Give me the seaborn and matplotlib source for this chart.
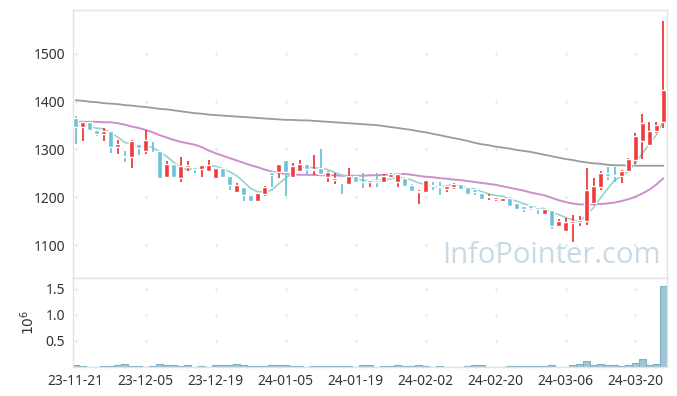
import numpy as np
import pandas as pd
import matplotlib
matplotlib.use("Agg")
import matplotlib.pyplot as plt
import seaborn as sns

# ===================== 数据 =====================
opens = [1365, 1348, 1357, 1341, 1333, 1339, 1306, 1287, 1285, 1311,
         1296, 1295, 1296, 1243, 1269, 1240, 1264, 1264, 1259, 1256,
         1241, 1262, 1245, 1212, 1222, 1205, 1193, 1207, 1252, 1252,
         1277, 1243, 1256, 1270, 1257, 1261, 1242, 1236, 1232, 1228,
         1245, 1233, 1231, 1236, 1233, 1243, 1231, 1241, 1226, 1212,
         1212, 1225, 1224, 1218, 1222, 1228, 1221, 1217, 1208.6, 1200,
         1196, 1193, 1198, 1189, 1181, 1183.5, 1180, 1166, 1174, 1139,
         1130, 1146, 1149, 1151, 1189, 1222, 1251, 1247, 1243.5, 1255,
         1278, 1317, 1310, 1338, 1357]
highs = [1371, 1358, 1358, 1341, 1345, 1339, 1320, 1296, 1320, 1311,
         1341, 1315, 1296, 1275, 1269, 1284, 1275, 1264, 1268, 1278,
         1262, 1262, 1245, 1229, 1222, 1205, 1209, 1224, 1252, 1270,
         1277, 1271, 1278, 1270, 1289, 1301, 1255, 1250, 1232, 1261,
         1245, 1250, 1236, 1250, 1248, 1250, 1249, 1241, 1228, 1215,
         1236, 1233, 1233, 1224, 1229, 1228, 1221, 1217, 1208.6, 1206,
         1201, 1199, 1200, 1189, 1181, 1183.5, 1180, 1175, 1174, 1155,
         1156, 1163, 1160, 1261, 1240, 1254, 1264, 1264, 1257, 1282,
         1334, 1374, 1358, 1357, 1568]
lows = [1311, 1318, 1340, 1329, 1318, 1292, 1290, 1273, 1261, 1289,
        1290, 1290, 1241, 1242, 1243, 1232, 1256, 1250, 1243, 1256,
        1238, 1243, 1215, 1212, 1192, 1190, 1193, 1203, 1222, 1241,
        1203, 1243, 1256, 1247, 1247, 1245, 1231, 1228, 1207, 1228,
        1231, 1219, 1221, 1221, 1229, 1243, 1222, 1224, 1214, 1186,
        1212, 1215, 1205, 1210, 1217, 1217, 1206, 1204, 1197, 1195,
        1193, 1193, 1182, 1176, 1170, 1174, 1165, 1164, 1133, 1139,
        1130, 1107, 1139, 1142, 1184, 1216, 1236, 1233, 1229, 1253,
        1270, 1280, 1310, 1335, 1345]
closes = [1348, 1357, 1340, 1333, 1339, 1306, 1311, 1285, 1318, 1304,
          1320, 1293, 1241, 1269, 1243, 1266, 1268, 1259, 1268, 1268,
          1262, 1243, 1226, 1226, 1204, 1193, 1209, 1222, 1247, 1270,
          1252, 1266, 1270, 1259, 1260, 1249, 1252, 1241, 1229, 1245,
          1231, 1231, 1236, 1233, 1245, 1248, 1249, 1224.5, 1214, 1213,
          1236, 1224, 1222, 1224, 1228, 1217, 1206.5, 1212, 1197, 1203,
          1200, 1199, 1182, 1176, 1176, 1178.5, 1176, 1175, 1139, 1151,
          1148, 1151, 1153, 1215, 1224, 1250, 1245.5, 1243.5, 1255, 1280,
          1328.5, 1355, 1339, 1352, 1425]
# 成交量（百万）
volume = [0.038, 0.013, 0, 0, 0.013, 0.013, 0.032, 0.051, 0.013, 0.013,
          0, 0.013, 0.051, 0.032, 0.032, 0.013, 0.032, 0, 0.013, 0,
          0.032, 0.032, 0.032, 0.051, 0.032, 0.013, 0.013, 0.013, 0.032, 0.032,
          0.032, 0.013, 0.013, 0, 0.013, 0.013, 0.013, 0.013, 0.013, 0.013,
          0, 0.032, 0.032, 0, 0.013, 0.013, 0.032, 0.013, 0.013, 0.032,
          0.013, 0, 0.013, 0, 0, 0, 0.013, 0.032, 0.032, 0,
          0, 0, 0.013, 0.013, 0.013, 0.013, 0.013, 0.013, 0.032, 0,
          0, 0.032, 0.051, 0.115, 0.032, 0.051, 0.032, 0.032, 0.013, 0.032,
          0.083, 0.147, 0.032, 0.051, 1.56]
# 20日 / 长期均线
ma20 = [1358, 1358, 1358, 1358, 1357, 1357, 1355, 1352, 1348, 1345,
        1341, 1336, 1330, 1325, 1320, 1316, 1313, 1310, 1305, 1298,
        1292, 1287, 1282, 1277, 1272, 1267, 1263, 1258, 1254, 1251,
        1249, 1248, 1247, 1247, 1247, 1246, 1246, 1246, 1245, 1245,
        1245, 1245, 1246, 1246, 1247, 1247, 1248, 1249, 1247, 1245,
        1243, 1242, 1240, 1239, 1237, 1236, 1234, 1232, 1230, 1228,
        1226, 1223, 1220, 1217, 1214, 1210, 1207, 1204, 1199, 1194,
        1190, 1187, 1185, 1185, 1185, 1186, 1187, 1189, 1192, 1196,
        1201, 1208, 1216, 1227, 1240]
ma120 = [1403, 1402, 1400, 1399, 1397, 1396, 1395, 1393, 1392, 1390,
         1389, 1387, 1385, 1384, 1382, 1380, 1378, 1376, 1375, 1373,
         1372, 1371, 1370, 1369, 1368, 1367, 1366, 1365, 1364, 1363,
         1362, 1362, 1361, 1361, 1360, 1359, 1358, 1357, 1356, 1355,
         1354, 1353, 1352, 1351, 1349, 1347, 1345, 1343, 1341, 1338,
         1336, 1333, 1330, 1327, 1324, 1321, 1318, 1314, 1311, 1309,
         1306, 1304, 1302, 1299, 1297, 1295, 1292, 1289, 1286, 1283,
         1280, 1278, 1275, 1273, 1271, 1270, 1268, 1267, 1267, 1266,
         1266, 1266, 1266, 1266, 1266]
date_labels = ["23-11-21", "23-12-05", "23-12-19", "24-01-05", "24-01-19",
               "24-02-02", "24-02-20", "24-03-06", "24-03-20"]

x = np.arange(len(closes))
o = np.array(opens); c = np.array(closes)
ma5 = pd.Series(closes).rolling(5, min_periods=1).mean()

# ===================== 样式 =====================
sns.set_style("white")
plt.rcParams['font.family'] = ['Noto Sans', 'DejaVu Sans']
RED, BLUE = "#ef3b3b", "#6cc3d9"

fig = plt.figure(figsize=(6.77, 3.96), dpi=100)
ax1 = fig.add_axes([0.1078, 0.298, 0.8774, 0.6767])
ax2 = fig.add_axes([0.1078, 0.0732, 0.8774, 0.2248], sharex=ax1)

# 均线
sns.lineplot(x=x, y=ma120, ax=ax1, color="#9b9b9b", lw=1.3, zorder=2)
sns.lineplot(x=x, y=ma20, ax=ax1, color="#cc8fcb", lw=1.4, zorder=2)
sns.lineplot(x=x, y=ma5, ax=ax1, color="#95d5c7", lw=1.2, zorder=2)

# K线
cols = [RED if cc >= oo else BLUE for oo, cc in zip(o, c)]
ax1.vlines(x, lows, highs, colors=cols, lw=1.3, zorder=3)
ax1.bar(x, np.maximum(np.abs(c - o), 1.5), bottom=np.minimum(o, c),
        width=0.75, color=cols, zorder=4)

ax1.set_xlim(-0.4, 84.5)
ax1.set_ylim(1031, 1592)
ax1.set_yticks([1100, 1200, 1300, 1400, 1500])
ax1.set_ylabel("")

# 水印
ax1.text(0.805, 0.085, "InfoPointer.com", transform=ax1.transAxes,
         ha="center", va="center", fontsize=21, color="#c8dae4",
         family=["Open Sans", "DejaVu Sans"], zorder=1)

# 成交量
sns.barplot(x=x, y=volume, ax=ax2, native_scale=True, color="#9fc5d6",
            edgecolor="#7fb0c6", linewidth=0.8, width=0.95, saturation=1)
ax2.set_ylim(0, 1.71)
ax2.set_yticks([0.5, 1.0, 1.5])
ax2.set_ylabel(r"$10^6$", fontsize=10, color="#333333", labelpad=6)
ax2.set_xticks(np.arange(0, 81, 10))
ax2.set_xticklabels(date_labels)
ax2.set_xlim(-0.4, 84.5)
plt.setp(ax1.get_xticklabels(), visible=False)

for ax in (ax1, ax2):
    for s in ax.spines.values():
        s.set_color("#e3e3e3")
        s.set_linewidth(1)
    ax.tick_params(axis="both", direction="inout", length=5, color="#e6e6e6",
                   labelsize=10, labelcolor="#333333", pad=3)
    # 网格十字
    gx, gy = np.meshgrid(ax2.get_xticks(), ax.get_yticks())
    ax.scatter(gx.ravel(), gy.ravel(), marker="+", s=12, color="#e8e8e8",
               linewidths=0.7, zorder=0)
ax1.tick_params(axis="x", length=0)
ax2.tick_params(axis="x", length=0, pad=5)

fig.savefig("out.png", dpi=100)
